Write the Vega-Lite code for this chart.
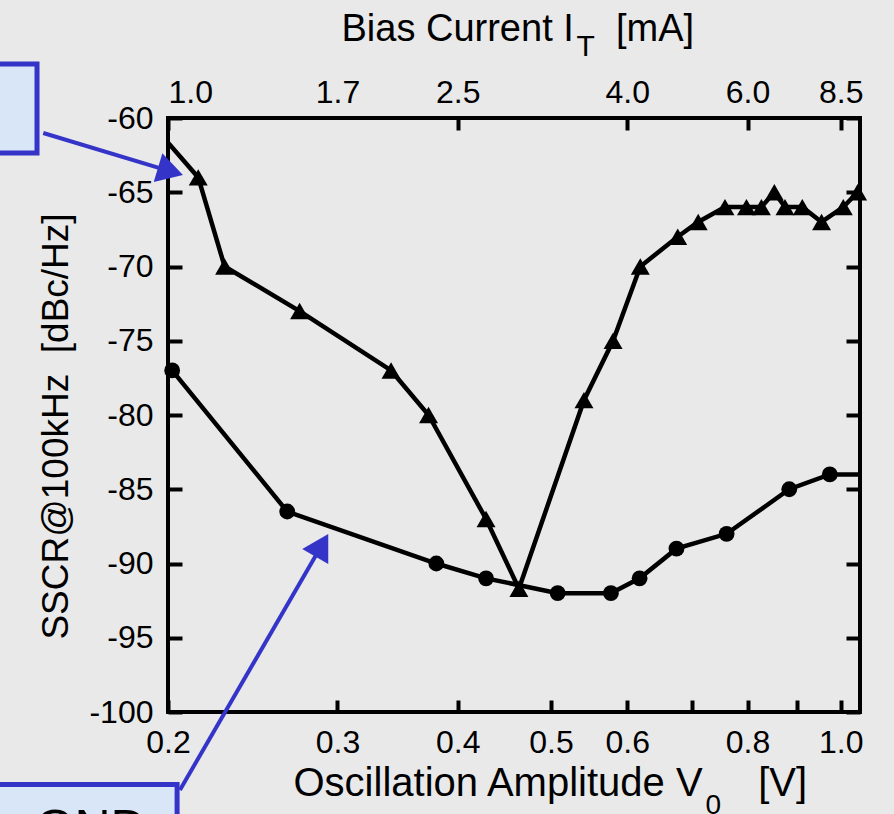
{
  "$schema": "https://vega.github.io/schema/vega-lite/v6.json",
  "width": 692,
  "height": 594,
  "autosize": "none",
  "padding": {"left": 168, "top": 118, "right": 34, "bottom": 102},
  "background": "#e9e9e9",
  "config": {
    "view": {"stroke": "#000", "strokeWidth": 4},
    "font": "Liberation Sans",
    "axis": {
      "grid": false,
      "domain": false,
      "labelFlush": false,
      "labelFont": "Liberation Sans",
      "labelFontSize": 32,
      "labelColor": "#000",
      "titleFont": "Liberation Sans",
      "titleColor": "#000",
      "titleFontWeight": "normal",
      "tickColor": "#000",
      "tickWidth": 4
    }
  },
  "datasets": {
    "series": [
      {"s": "tri", "v": 0.19, "ssc": -60},
      {"s": "tri", "v": 0.215, "ssc": -64},
      {"s": "tri", "v": 0.229, "ssc": -70},
      {"s": "tri", "v": 0.274, "ssc": -73},
      {"s": "tri", "v": 0.341, "ssc": -77},
      {"s": "tri", "v": 0.373, "ssc": -80},
      {"s": "tri", "v": 0.428, "ssc": -87},
      {"s": "tri", "v": 0.463, "ssc": -91.7},
      {"s": "tri", "v": 0.541, "ssc": -79},
      {"s": "tri", "v": 0.58, "ssc": -75},
      {"s": "tri", "v": 0.619, "ssc": -70},
      {"s": "tri", "v": 0.677, "ssc": -68},
      {"s": "tri", "v": 0.711, "ssc": -67},
      {"s": "tri", "v": 0.758, "ssc": -66},
      {"s": "tri", "v": 0.798, "ssc": -66},
      {"s": "tri", "v": 0.827, "ssc": -66},
      {"s": "tri", "v": 0.853, "ssc": -65},
      {"s": "tri", "v": 0.875, "ssc": -66},
      {"s": "tri", "v": 0.912, "ssc": -66},
      {"s": "tri", "v": 0.955, "ssc": -67},
      {"s": "tri", "v": 1.006, "ssc": -66},
      {"s": "tri", "v": 1.041, "ssc": -65},
      {"s": "circ", "v": 0.202, "ssc": -77},
      {"s": "circ", "v": 0.266, "ssc": -86.5},
      {"s": "circ", "v": 0.38, "ssc": -90},
      {"s": "circ", "v": 0.428, "ssc": -91},
      {"s": "circ", "v": 0.508, "ssc": -92},
      {"s": "circ", "v": 0.577, "ssc": -92},
      {"s": "circ", "v": 0.618, "ssc": -91},
      {"s": "circ", "v": 0.675, "ssc": -89},
      {"s": "circ", "v": 0.761, "ssc": -88},
      {"s": "circ", "v": 0.884, "ssc": -85},
      {"s": "circ", "v": 0.974, "ssc": -84},
      {"s": "circ", "v": 1.1, "ssc": -84}
    ],
    "boxes": [
      {"x1": 0.1276, "x2": 0.1462, "y1": -56.36, "y2": -62.36},
      {"x1": 0.1276, "x2": 0.2044, "y1": -104.88, "y2": -109.3}
    ],
    "arrows": [
      {"x1": 0.1484, "y1": -61.01, "x2": 0.2012, "y2": -63.59},
      {"x1": 0.2058, "y1": -105.25, "x2": 0.2889, "y2": -88.77}
    ],
    "headTop": [{"x": 0.2012, "y": -63.59}],
    "headBottom": [{"x": 0.2889, "y": -88.77}],
    "labels": [{"x": 0.1664, "y": -108.95, "t": "GND"}]
  },
  "resolve": {"axis": {"x": "independent", "y": "independent"}},
  "layer": [
    {
      "data": {"name": "series"},
      "mark": {"type": "line", "color": "#000", "strokeWidth": 4.5, "clip": true},
      "encoding": {
        "x": {
          "field": "v", "type": "quantitative",
          "scale": {"type": "log", "domain": [0.2, 1.047], "nice": false},
          "axis": {
            "orient": "bottom",
            "values": [0.2, 0.3, 0.4, 0.5, 0.6, 0.7, 0.8, 0.9, 1.0],
            "labelExpr": "datum.value == 0.7 || datum.value == 0.9 ? '' : format(datum.value, '.1f')",
            "labelFlush": false,
            "tickSize": -12,
            "labelPadding": 27,
            "title": "Oscillation Amplitude V\u00a0\u00a0\u00a0\u00a0\u00a0[V]",
            "titleFontSize": 40,
            "titleAlign": "left",
            "titleBaseline": "alphabetic",
            "titleX": 125,
            "titleY": 83
          }
        },
        "y": {
          "field": "ssc", "type": "quantitative",
          "scale": {"domain": [-100, -60], "nice": false, "zero": false},
          "axis": {
            "orient": "left",
            "values": [-60, -65, -70, -75, -80, -85, -90, -95, -100],
            "labelExpr": "'' + datum.value",
            "labelFlush": false,
            "tickSize": -14,
            "labelPadding": 29,
            "title": "SSCR@100kHz\u00a0\u00a0[dBc/Hz]",
            "titleFontSize": 37,
            "titleAngle": 270,
            "titleAlign": "center",
            "titleBaseline": "alphabetic",
            "titleX": -101,
            "titleY": 308
          }
        },
        "detail": {"field": "s"}
      }
    },
    {
      "data": {"name": "series"},
      "transform": [{"filter": "datum.v >= 0.2 && datum.v <= 1.047"}],
      "mark": {"type": "point", "filled": true, "opacity": 1, "color": "#000"},
      "encoding": {
        "x": {
          "field": "v", "type": "quantitative",
          "scale": {"type": "log", "domain": [0.2, 1.047], "nice": false},
          "axis": {
            "orient": "top",
            "values": [0.2, 0.3, 0.4, 0.6, 0.8, 1.0],
            "labelExpr": "datum.value == 0.2 ? '1.0' : datum.value == 0.3 ? '1.7' : datum.value == 0.4 ? '2.5' : datum.value == 0.6 ? '4.0' : datum.value == 0.8 ? '6.0' : '8.5'",
            "labelFlush": false,
            "labelAlign": {"condition": {"test": "datum.value == 0.2", "value": "left"}, "value": "center"},
            "tickOpacity": {"condition": {"test": "datum.value == 0.3", "value": 0}, "value": 1},
            "tickSize": -12,
            "labelPadding": 21,
            "title": "Bias Current I\u00a0\u00a0\u00a0\u00a0[mA]",
            "titleFontSize": 38,
            "titleAlign": "left",
            "titleBaseline": "alphabetic",
            "titleX": 173,
            "titleY": -78
          }
        },
        "y": {
          "field": "ssc", "type": "quantitative",
          "scale": {"domain": [-100, -60], "nice": false, "zero": false},
          "axis": {
            "orient": "right",
            "values": [-60, -65, -70, -75, -80, -85, -90, -95, -100],
            "labels": false,
            "tickSize": -14,
            "title": "T",
            "titleFontSize": 30,
            "titleAngle": 0,
            "titleAlign": "left",
            "titleBaseline": "alphabetic",
            "titleX": -284,
            "titleY": -63
          }
        },
        "shape": {"field": "s", "type": "nominal", "scale": {"domain": ["circ", "tri"], "range": ["circle", "triangle-up"]}, "legend": null},
        "size": {"field": "s", "type": "nominal", "scale": {"domain": ["circ", "tri"], "range": [250, 360]}, "legend": null}
      }
    },
    {
      "data": {"name": "boxes"},
      "mark": {"type": "rect", "fill": "#d9e6f7", "stroke": "#3434c8", "strokeWidth": 5},
      "encoding": {
        "x": {"field": "x1", "type": "quantitative", "scale": {"type": "log", "domain": [0.2, 1.047], "nice": false}, "axis": null},
        "x2": {"field": "x2"},
        "y": {"field": "y1", "type": "quantitative", "scale": {"domain": [-100, -60], "nice": false, "zero": false}, "axis": null},
        "y2": {"field": "y2"}
      }
    },
    {
      "data": {"name": "arrows"},
      "mark": {"type": "rule", "color": "#3434c8", "strokeWidth": 4},
      "encoding": {
        "x": {"field": "x1", "type": "quantitative", "scale": {"type": "log", "domain": [0.2, 1.047], "nice": false}, "axis": null},
        "x2": {"field": "x2"},
        "y": {"field": "y1", "type": "quantitative", "scale": {"domain": [-100, -60], "nice": false, "zero": false}, "axis": null},
        "y2": {"field": "y2"}
      }
    },
    {
      "data": {"name": "headTop"},
      "mark": {"type": "point", "shape": "triangle-up", "filled": true, "opacity": 1, "color": "#3434c8", "size": 900, "angle": 106.7},
      "encoding": {
        "x": {"field": "x", "type": "quantitative", "scale": {"type": "log", "domain": [0.2, 1.047], "nice": false}, "axis": null},
        "y": {"field": "y", "type": "quantitative", "scale": {"domain": [-100, -60], "nice": false, "zero": false}, "axis": null}
      }
    },
    {
      "data": {"name": "headBottom"},
      "mark": {"type": "point", "shape": "triangle-up", "filled": true, "opacity": 1, "color": "#3434c8", "size": 900, "angle": 30},
      "encoding": {
        "x": {"field": "x", "type": "quantitative", "scale": {"type": "log", "domain": [0.2, 1.047], "nice": false}, "axis": null},
        "y": {"field": "y", "type": "quantitative", "scale": {"domain": [-100, -60], "nice": false, "zero": false}, "axis": null}
      }
    },
    {
      "data": {"name": "labels"},
      "mark": {"type": "text", "fontSize": 50, "font": "Liberation Sans", "color": "#000", "align": "center", "baseline": "alphabetic"},
      "encoding": {
        "x": {
          "field": "x", "type": "quantitative",
          "scale": {"type": "log", "domain": [0.2, 1.047], "nice": false},
          "axis": {
            "orient": "bottom",
            "ticks": false,
            "labels": false,
            "domain": false,
            "title": "0",
            "titleFontSize": 28,
            "titleAlign": "left",
            "titleBaseline": "alphabetic",
            "titleX": 537,
            "titleY": 101
          }
        },
        "y": {"field": "y", "type": "quantitative", "scale": {"domain": [-100, -60], "nice": false, "zero": false}, "axis": null},
        "text": {"field": "t"}
      }
    }
  ]
}
